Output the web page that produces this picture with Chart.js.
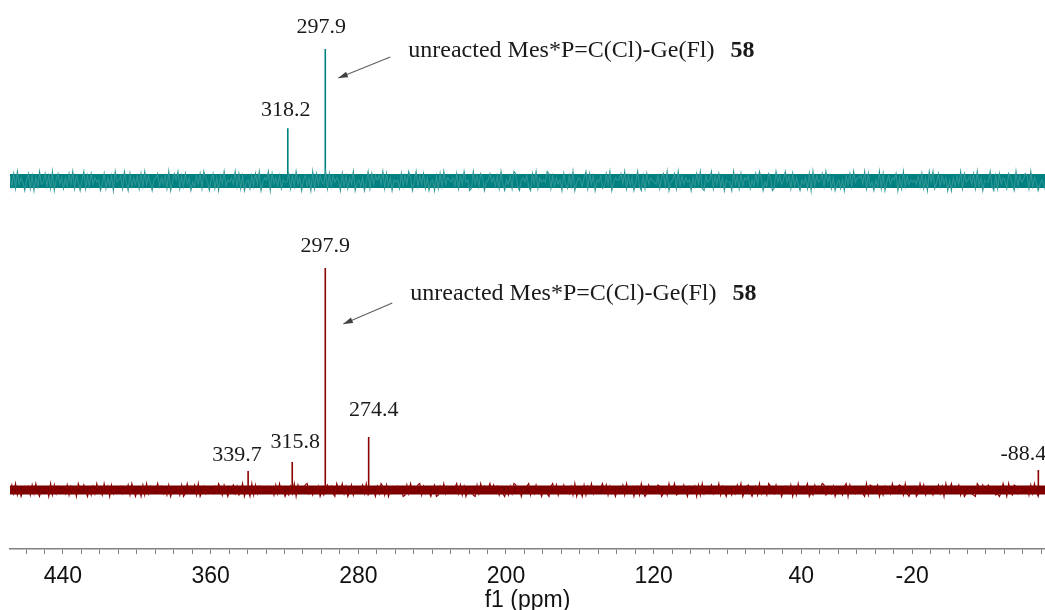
<!DOCTYPE html>
<html>
<head>
<meta charset="utf-8">
<script src="https://cdn.jsdelivr.net/npm/chart.js@4/dist/chart.umd.min.js"></script>
<style>
  html, body { margin: 0; padding: 0; background: #fff; }
  #wrap { width: 1045px; height: 610px; }
</style>
</head>
<body>
<div id="wrap"><canvas id="nmr" width="1045" height="610"></canvas></div>
<script>
// f1 window (ppm, high field on the right) and the labelled ticks
const PPM_LEFT = 468.7;
const PPM_RIGHT = -92;
const TICK_LABELS = [440, 360, 280, 200, 120, 40, -20];

// upper spectrum: peak shifts and relative heights
const TOP_PEAKS = [318.2, 297.9];
const TOP_HEIGHTS = [40, 100];

// lower spectrum
const BOTTOM_PEAKS = [339.7, 315.8, 297.9, 274.4, -88.4];
const BOTTOM_HEIGHTS = [8.6, 12.6, 100, 23.9, 9.0];

// baseline noise, one digit per 1 ppm sample, 0..9 around the baseline
const NOISE_STEP = 1.0;
const TOP_NOISE =
  '7281936405817062934827190583616283917405917283645038162709457194082637' +
  '1829374056826371904859172836042738196405816073925463928170451728390465' +
  '9083627154481729360572609183743918274650827163904526049183757391826054' +
  '5182739604927381604507182936546281739450193728604584627193053719820564' +
  '7208391645498172635083172904652691837054712839046558391726049207183654' +
  '3716829045819273645062839107459173826054409371826571528396042860194735' +
  '9471826305361809274582947160351507382946673918240529180473658061927354' +
  '5372816094914827360506273918457381926054492071836518630927458719264035' +
  '30528179466289170435';
const BOTTOM_NOISE =
  '3829160475718293065460918273452817360954840617293519370826457263819405' +
  '5081927364937261804546180293758190372654273961840568271390540918273645' +
  '7461829350317290846589251637041683720954927038164558291364072971804635' +
  '7360182945489172630580173926543692817045610829374593847162051729836054' +
  '7916283405520793816483627190540817392645693817240524819367057193028465' +
  '4870261935912638407537081926458263917405516283904783047192651975283604' +
  '7428061935269031847598136270454179083625632091874580517362943786192045' +
  '7029381564164827093593758160245210973846846712039509318726456718293054' +
  '25908417367832069145';

const NOTE_TEXT = 'unreacted Mes*P=C(Cl)-Ge(Fl)';
const NOTE_NUMBER = '58';

// drawing constants
const TEAL = '#008080';
const TEAL_LIGHT = '#2e9494';
const MAROON = '#8b0000';
const MAROON_DARK = '#7a0000';
const TOP_BASE = 368;
const TOP_GAIN = 1.32;
const TOP_AMP = 2.1;
const BOTTOM_BASE = 59;
const BOTTOM_GAIN = 2.22;
const BOTTOM_AMP = 1.45;

// label nudges: [dx, gap between peak tip and text baseline]
const TOP_NUDGE = [[-2, 12], [-4, 16]];
const BOTTOM_NUDGE = [[-11, 10], [3, 14], [0, 16], [5, 21], [-15, 10]];

function noiseTrace(digits, base, amp) {
  const pts = [];
  for (let i = 0; i < digits.length; i++) {
    pts.push({ x: PPM_LEFT - i * NOISE_STEP, y: base + (Number(digits[i]) - 4.5) * amp });
  }
  return pts;
}

function baseline(base) {
  return [{ x: PPM_LEFT, y: base }, { x: PPM_RIGHT, y: base }];
}

function sticks(ppm, heights, base, gain) {
  const pts = [];
  ppm.forEach((p, i) => {
    pts.push({ x: p, y: base }, { x: p, y: base + heights[i] * gain }, { x: p, y: null });
  });
  return pts;
}

function drawArrow(ctx, x1, y1, x2, y2) {
  const ang = Math.atan2(y2 - y1, x2 - x1);
  ctx.save();
  ctx.strokeStyle = '#606060';
  ctx.fillStyle = '#404040';
  ctx.lineWidth = 1.2;
  ctx.beginPath();
  ctx.moveTo(x1, y1);
  ctx.lineTo(x2, y2);
  ctx.stroke();
  ctx.beginPath();
  ctx.moveTo(x2, y2);
  ctx.lineTo(x2 - 10 * Math.cos(ang - 0.3), y2 - 10 * Math.sin(ang - 0.3));
  ctx.lineTo(x2 - 10 * Math.cos(ang + 0.3), y2 - 10 * Math.sin(ang + 0.3));
  ctx.closePath();
  ctx.fill();
  ctx.restore();
}

const peakLabels = {
  id: 'peakLabels',
  afterDatasetsDraw(chart) {
    const { ctx, scales: { x, y } } = chart;
    ctx.save();
    ctx.fillStyle = '#1a1a1a';
    ctx.font = '22px "Liberation Serif", serif';
    ctx.textAlign = 'center';
    ctx.textBaseline = 'alphabetic';

    const put = (ppm, heights, base, gain, nudge) => {
      ppm.forEach((p, i) => {
        const px = x.getPixelForValue(p);
        const tip = y.getPixelForValue(base + heights[i] * gain);
        ctx.fillText(p.toFixed(1), px + nudge[i][0], tip - nudge[i][1]);
      });
    };
    put(TOP_PEAKS, TOP_HEIGHTS, TOP_BASE, TOP_GAIN, TOP_NUDGE);
    put(BOTTOM_PEAKS, BOTTOM_HEIGHTS, BOTTOM_BASE, BOTTOM_GAIN, BOTTOM_NUDGE);

    // note pointing at the 297.9 line in each trace
    const notes = [
      { dx: 83, text: 492, tail: 492, tip: 471, arrowDx: 13 },
      { dx: 85, text: 249, tail: 246, tip: 225, arrowDx: 18 },
    ];
    const px = x.getPixelForValue(297.9);
    notes.forEach((n) => {
      const left = px + n.dx;
      const ty = y.getPixelForValue(n.text);
      ctx.textAlign = 'left';
      ctx.font = '24px "Liberation Serif", serif';
      ctx.fillText(NOTE_TEXT, left, ty);
      const w = ctx.measureText(NOTE_TEXT).width;
      ctx.font = 'bold 24px "Liberation Serif", serif';
      ctx.fillText(NOTE_NUMBER, left + w + 16, ty);
      drawArrow(ctx, left - 18, y.getPixelForValue(n.tail), px + n.arrowDx, y.getPixelForValue(n.tip));
    });
    ctx.restore();
  },
};

new Chart(document.getElementById('nmr').getContext('2d'), {
  type: 'line',
  data: {
    datasets: [
      { data: noiseTrace(TOP_NOISE, TOP_BASE, TOP_AMP), borderColor: TEAL_LIGHT, borderWidth: 1.1 },
      { data: baseline(TOP_BASE), borderColor: TEAL, borderWidth: 14 },
      { data: sticks(TOP_PEAKS, TOP_HEIGHTS, TOP_BASE, TOP_GAIN), borderColor: TEAL, borderWidth: 1.6 },
      { data: noiseTrace(BOTTOM_NOISE, BOTTOM_BASE, BOTTOM_AMP), borderColor: MAROON, borderWidth: 1.1 },
      { data: baseline(BOTTOM_BASE), borderColor: MAROON_DARK, borderWidth: 9 },
      { data: sticks(BOTTOM_PEAKS, BOTTOM_HEIGHTS, BOTTOM_BASE, BOTTOM_GAIN), borderColor: MAROON, borderWidth: 1.6 },
    ],
  },
  options: {
    responsive: false,
    animation: false,
    devicePixelRatio: 1,
    layout: { padding: { left: 10, right: 0, top: 0, bottom: 0 } },
    elements: { point: { radius: 0 }, line: { tension: 0 } },
    spanGaps: false,
    plugins: { legend: { display: false }, tooltip: { enabled: false } },
    scales: {
      x: {
        type: 'linear',
        reverse: true,
        min: PPM_RIGHT,
        max: PPM_LEFT,
        afterBuildTicks: (scale) => {
          const ticks = [];
          for (let v = 460; v >= -90; v -= 10) ticks.push({ value: v });
          scale.ticks = ticks;
        },
        afterFit: (scale) => { scale.height = 61; },
        border: { display: true, color: '#808080', width: 1.5 },
        grid: { drawOnChartArea: false, drawTicks: true, tickLength: 5, color: '#808080', lineWidth: 1 },
        ticks: {
          autoSkip: false,
          maxRotation: 0,
          padding: 0,
          color: '#111',
          font: { family: '"Liberation Sans", sans-serif', size: 23, lineHeight: 2 },
          callback: (v) => (TICK_LABELS.includes(v) ? String(v) : ''),
        },
        title: {
          display: true,
          text: 'f1 (ppm)',
          color: '#111',
          padding: { top: 0, bottom: -4 },
          font: { family: '"Liberation Sans", sans-serif', size: 23, lineHeight: 1.2 },
        },
      },
      y: { display: false, min: 0, max: 549 },
    },
  },
  plugins: [peakLabels],
});
</script>
</body>
</html>
